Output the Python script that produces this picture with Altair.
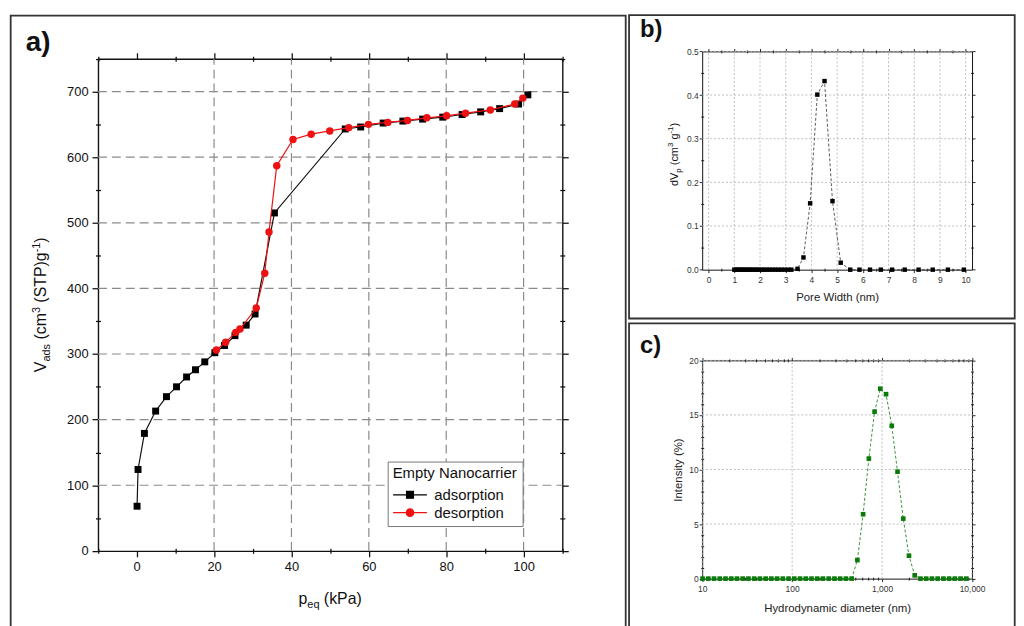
import altair as alt
import pandas as pd

FONT = "Liberation Sans"
INK = "#111111"
RED = "#ee1111"
GREEN = "#0a7a0a"
W, H = 1016, 618   # drawing area (page minus the 8px margin)

# ---------------- data ----------------
# a) N2 isotherm
ads_p = [0.1, 0.35, 2.0, 4.9, 7.7, 10.3, 12.9, 15.2, 17.6, 20.2, 22.7, 25.4, 28.3, 30.6,
         35.6, 53.9, 57.9, 63.7, 68.8, 73.9, 79.1, 84.1, 88.9, 93.8, 98.7, 101.1]
ads_v = [68, 124, 179, 213, 235, 250, 265, 276, 288, 302, 313, 328, 344, 361,
         515, 643, 646, 652, 655, 658, 661, 665, 669, 674, 681, 695]
des_p = [99.8, 97.7, 91.4, 85.0, 80.1, 75.0, 70.0, 64.9, 59.9, 54.8, 49.9, 45.1, 40.4,
         36.2, 34.2, 33.1, 30.9, 26.7, 25.6, 23.0, 20.6]
des_v = [690, 681, 672, 667, 663, 660, 656, 653, 650, 645, 640, 635, 627,
         587, 486, 423, 370, 338, 333, 318, 306]
series_names = ["adsorption", "desorption"]
legend_title = "Empty Nanocarrier"

# b) pore size distribution
pore_w = [1.00, 1.07, 1.14, 1.21, 1.28, 1.36, 1.44, 1.52, 1.60, 1.69, 1.78, 1.87, 1.96,
          2.06, 2.16, 2.26, 2.37, 2.48, 2.59, 2.71, 2.83, 2.96, 3.09, 3.22, 3.46, 3.69,
          3.95, 4.23, 4.51, 4.82, 5.14, 5.51, 5.87, 6.28, 6.70, 7.14, 7.63, 8.17, 8.72,
          9.31, 9.93]
pore_dv = [0.0, 0.0, 0.0, 0.0, 0.0, 0.0, 0.0, 0.0, 0.0, 0.0, 0.0, 0.0, 0.0,
           0.0, 0.0, 0.0, 0.0, 0.0, 0.0, 0.0, 0.0, 0.0, 0.0, 0.0, 0.002, 0.028,
           0.152, 0.401, 0.432, 0.157, 0.016, 0.0, 0.0, 0.0, 0.0, 0.0, 0.0, 0.0, 0.0,
           0.0, 0.0]

# c) DLS intensity distribution
dls_d = [10.10, 11.70, 13.54, 15.69, 18.17, 21.04, 24.36, 28.21, 32.67, 37.84, 43.82,
         50.75, 58.77, 68.06, 78.82, 91.28, 105.7, 122.4, 141.8, 164.2, 190.1, 220.2,
         255.0, 295.3, 342.0, 396.1, 458.7, 531.2, 615.1, 712.4, 825.0, 955.4, 1106,
         1281, 1484, 1718, 1990, 2305, 2669, 3091, 3580, 4145, 4801, 5560, 6439, 7456,
         8635]
dls_i = [0, 0, 0, 0, 0, 0, 0, 0, 0, 0, 0,
         0, 0, 0, 0, 0, 0, 0, 0, 0, 0, 0,
         0, 0, 0, 0, 0, 1.7, 5.9, 11.0, 15.3, 17.4, 16.9,
         14.0, 9.8, 5.5, 2.1, 0.3, 0, 0, 0, 0, 0, 0, 0, 0,
         0]

# axis domains and tick values
a_xdom, a_ydom = [-10, 110], [0, 750]
b_xdom, b_ydom = [-0.25, 10.25], [0, 0.5]
c_xdom, c_ydom = [10, 10000], [0, 20]
a_xmaj = [0, 20, 40, 60, 80, 100]
a_xmin = [-10, 10, 30, 50, 70, 90, 110]
a_ymaj = [0, 100, 200, 300, 400, 500, 600, 700]
a_ymin = [50, 150, 250, 350, 450, 550, 650, 750]
b_xmaj = [0, 1, 2, 3, 4, 5, 6, 7, 8, 9, 10]
b_xmin = [0.5, 1.5, 2.5, 3.5, 4.5, 5.5, 6.5, 7.5, 8.5, 9.5]
b_ymaj = [0.0, 0.1, 0.2, 0.3, 0.4, 0.5]
b_ymin = [0.05, 0.15, 0.25, 0.35, 0.45]
c_xmaj = [10, 100, 1000, 10000]
c_xmin = [20, 30, 40, 50, 60, 70, 80, 90, 200, 300, 400, 500, 600, 700, 800, 900,
          2000, 3000, 4000, 5000, 6000, 7000, 8000, 9000]
c_ymaj = [0, 5, 10, 15, 20]
c_ymin = [1, 2, 3, 4, 6, 7, 8, 9, 11, 12, 13, 14, 16, 17, 18, 19]

# ---------------- tables ----------------
ads_df = pd.DataFrame({"p": ads_p, "v": ads_v, "i": list(range(len(ads_p))),
                       "series": series_names[0]})
des_df = pd.DataFrame({"p": des_p, "v": des_v, "i": list(range(len(des_p))),
                       "series": series_names[1]})
iso_df = pd.concat([ads_df, des_df], ignore_index=True)
pore_df = pd.DataFrame({"w": pore_w, "dv": pore_dv})
dls_df = pd.DataFrame({"d": dls_d, "inten": dls_i})
one = pd.DataFrame({"k": [0]})

# ---------------- panel boxes (left, right, top, bottom) in px ----------------
BOX_A = (90.7, 558.7, 48.7, 544.7)
BOX_B = (699.7, 971.7, 41.3, 261.3)
BOX_C = (699.7, 971.7, 352.7, 572.7)


def scales(box, xdom, ydom, xlog=False):
    l, r, t, b = box
    xkw = dict(domain=xdom, range=[l, r], nice=False)
    if xlog:
        xkw["type"] = "log"
    else:
        xkw["zero"] = False
    return alt.Scale(**xkw), alt.Scale(domain=ydom, range=[b, t], nice=False, zero=False)


xa, ya = scales(BOX_A, a_xdom, a_ydom)
xb, yb = scales(BOX_B, b_xdom, b_ydom)
xc, yc = scales(BOX_C, c_xdom, c_ydom, xlog=True)

# ---------------- helpers ----------------
ARIAL = {" ": 278, "(": 333, ")": 333, "a": 556, "d": 556, "s": 500, "c": 500, "m": 833,
         "e": 556, "q": 556, "p": 556, "k": 500, "P": 667, "T": 611, "S": 667, "g": 556,
         "V": 667, "3": 556, "1": 556, "-": 333, "n": 556}


def text_width(s, size):
    return sum(ARIAL.get(ch, 556) for ch in s) * size / 1000.0


def rich_text(pieces, x, y, angle):
    layers = []
    off = 0.0
    for txt, size, shift in pieces:
        lead = len(txt) - len(txt.lstrip(" "))
        off += lead * 0.278 * size
        body = txt.strip(" ")
        kw = dict(text=body, font=FONT, fontSize=size, align="left",
                  baseline="alphabetic", dx=off, dy=shift, color=INK)
        if angle:
            kw["angle"] = angle
        layers.append(alt.Chart(one).mark_text(**kw).encode(x=alt.value(x), y=alt.value(y)))
        off += text_width(body, size)
    return layers


def axis_offsets(box):
    l, r, t, b = box
    return {"bottom": b - H, "top": -t, "left": -l, "right": r - W}


def guide_point(channel, scale, val, axis):
    d = pd.DataFrame({"t": [val]})
    if channel == "x":
        enc = dict(x=alt.X("t:Q", scale=scale, axis=axis), y=alt.value(0))
    else:
        enc = dict(y=alt.Y("t:Q", scale=scale, axis=axis), x=alt.value(0))
    return alt.Chart(d).mark_point(opacity=0).encode(**enc)


def panel_guides(box, xs, ys, xv, yv, xmaj, xmin, ymaj, ymin, msz, nsz, w, xmain, ymain):
    off = axis_offsets(box)
    layers = []

    def plain(orient, vals, size, offset, domain):
        return alt.Axis(orient=orient, values=vals, labels=False, grid=False, title=None,
                        domain=domain, domainColor=INK, domainWidth=w, ticks=True,
                        tickSize=size, tickColor=INK, tickWidth=0.9 * w, offset=offset)

    common = dict(labelFlush=False, labelOverlap=False, grid=False, domain=True,
                  domainColor=INK, domainWidth=w, ticks=True, tickSize=msz, tickColor=INK,
                  tickWidth=0.9 * w)
    layers.append(guide_point("x", xs, xv, alt.Axis(orient="bottom", offset=off["bottom"],
                                                    values=xmaj, **common, **xmain)))
    layers.append(guide_point("y", ys, yv, alt.Axis(orient="left", offset=off["left"],
                                                    values=ymaj, **common, **ymain)))
    layers.append(guide_point("x", xs, xv, plain("top", xmaj, msz, off["top"], True)))
    layers.append(guide_point("y", ys, yv, plain("right", ymaj, msz, off["right"], True)))
    for o in ["bottom", "top"]:
        layers.append(guide_point("x", xs, xv, plain(o, xmin, nsz, off[o] - nsz / 2.0, False)))
    for o in ["left", "right"]:
        layers.append(guide_point("y", ys, yv, plain(o, ymin, nsz, off[o] - nsz / 2.0, False)))
    return layers


def grid_rules(xs, ys, xdom, ydom, xvals, yvals, color, dash, width):
    gx = pd.DataFrame({"g": xvals, "lo": ydom[0], "hi": ydom[1]})
    gy = pd.DataFrame({"g": yvals, "lo": xdom[0], "hi": xdom[1]})
    mk = dict(color=color, strokeDash=dash, strokeWidth=width)
    return [
        alt.Chart(gx).mark_rule(**mk).encode(
            x=alt.X("g:Q", scale=xs, axis=None), y=alt.Y("lo:Q", scale=ys, axis=None), y2="hi:Q"),
        alt.Chart(gy).mark_rule(**mk).encode(
            y=alt.Y("g:Q", scale=ys, axis=None), x=alt.X("lo:Q", scale=xs, axis=None), x2="hi:Q"),
    ]


def frame(x1, x2, y1, y2):
    return alt.Chart(one).mark_rect(fillOpacity=0, stroke="#333333", strokeWidth=1.8).encode(
        x=alt.value(x1), x2=alt.value(x2), y=alt.value(y1), y2=alt.value(y2))


def tag(txt, x, y, size):
    return alt.Chart(one).mark_text(text=txt, font=FONT, fontSize=size, fontWeight="bold",
                                    align="left", baseline="alphabetic", color=INK).encode(
        x=alt.value(x), y=alt.value(y))


# ---------------- panel a ----------------
lab_a = dict(format="d", labelFontSize=13, labelColor=INK, labelPadding=4, title=None)
guides_a = panel_guides(BOX_A, xa, ya, 50, 300, a_xmaj, a_xmin, a_ymaj, a_ymin, 6, 5, 1.4,
                        lab_a, lab_a)
grid_a = grid_rules(xa, ya, a_xdom, a_ydom, a_xmaj[1:], a_ymaj[1:], "#8a8a8a", [9, 5], 1.2)

ads_line = alt.Chart(ads_df).mark_line(color=INK, strokeWidth=1.2).encode(
    x=alt.X("p:Q", scale=xa, axis=None), y=alt.Y("v:Q", scale=ya, axis=None), order="i:Q")
ads_pts = alt.Chart(ads_df).mark_point(shape="square", filled=True, size=49, color="black",
                                       opacity=1).encode(
    x=alt.X("p:Q", scale=xa, axis=None), y=alt.Y("v:Q", scale=ya, axis=None))
des_line = alt.Chart(des_df).mark_line(color=RED, strokeWidth=1.2).encode(
    x=alt.X("p:Q", scale=xa, axis=None), y=alt.Y("v:Q", scale=ya, axis=None), order="i:Q")
des_pts = alt.Chart(des_df).mark_point(shape="circle", filled=True, size=56, color=RED,
                                       opacity=1).encode(
    x=alt.X("p:Q", scale=xa, axis=None), y=alt.Y("v:Q", scale=ya, axis=None))

SYM_SQ = "M-2,0H2M-0.41,-0.41H0.41V0.41H-0.41Z"
SYM_CI = "M-2,0H2M-0.44,0A0.44,0.44,0,1,0,0.44,0A0.44,0.44,0,1,0,-0.44,0Z"
leg = alt.Legend(title=legend_title, orient="none", legendX=382.7, legendY=454.7,
                 direction="vertical", titleFontSize=15, titleFontWeight="normal",
                 titleColor=INK, labelFontSize=15, labelColor=INK, symbolSize=289,
                 symbolStrokeWidth=1.2, symbolOffset=8, labelOffset=15, padding=5,
                 rowPadding=0, titlePadding=4, strokeColor="#777777", fillColor="white",
                 symbolOpacity=1)
col_scale = alt.Scale(domain=series_names, range=["black", RED])
leg_layer = alt.Chart(iso_df).mark_point(opacity=0, size=289).encode(
    x=alt.X("p:Q", scale=xa, axis=None), y=alt.Y("v:Q", scale=ya, axis=None),
    fill=alt.Fill("series:N", scale=col_scale, legend=leg),
    stroke=alt.Stroke("series:N", scale=col_scale, legend=leg),
    shape=alt.Shape("series:N", scale=alt.Scale(domain=series_names, range=[SYM_SQ, SYM_CI]),
                    legend=leg))

ytitle_a = rich_text([("V", 16, 0), ("ads", 11, 4), (" (cm", 16, 0), ("3", 11, -6),
                      (" (STP)g", 16, 0), ("-1", 11, -6), (")", 16, 0)],
                     38.5, 364.6, 270)
xtitle_a = rich_text([("p", 16, 0), ("eq", 11, 4), (" (kPa)", 16, 0)], 292.8, 598.0, 0)

# ---------------- panel b ----------------
lab_bx = dict(format="d", labelFontSize=8.5, labelColor="#333333", labelPadding=3,
              title="Pore Width (nm)", titleFontSize=11.5, titleFontWeight="normal",
              titleColor="#222222", titlePadding=8)
lab_by = dict(format=".1f", labelFontSize=8.5, labelColor="#333333", labelPadding=1, title=None)
guides_b = panel_guides(BOX_B, xb, yb, 5, 0.25, b_xmaj, b_xmin, b_ymaj, b_ymin, 3, 3, 1.0,
                        lab_bx, lab_by)
grid_b = grid_rules(xb, yb, b_xdom, b_ydom, b_xmaj, b_ymaj[1:], "#b0b0b0", [2, 2], 0.8)
b_line = alt.Chart(pore_df).mark_line(color="#333333", strokeWidth=0.8, strokeDash=[3, 2]).encode(
    x=alt.X("w:Q", scale=xb, axis=None), y=alt.Y("dv:Q", scale=yb, axis=None))
b_pts = alt.Chart(pore_df).mark_point(shape="square", filled=True, size=20, color="black",
                                      opacity=1).encode(
    x=alt.X("w:Q", scale=xb, axis=None), y=alt.Y("dv:Q", scale=yb, axis=None))
ytitle_b = rich_text([("dV", 11, 0), ("p", 8, 3), (" (cm", 11, 0), ("3", 8, -4.5),
                      (" g", 11, 0), ("-1", 8, -4.5), (")", 11, 0)], 675.0, 177.0, 270)

# ---------------- panel c ----------------
lab_cx = dict(format=",", labelFontSize=8.5, labelColor="#333333", labelPadding=3,
              title="Hydrodynamic diameter (nm)", titleFontSize=11.5, titleFontWeight="normal",
              titleColor="#222222", titlePadding=10)
lab_cy = dict(format="d", labelFontSize=8.5, labelColor="#333333", labelPadding=1,
              title="Intensity (%)", titleFontSize=11.5, titleFontWeight="normal",
              titleColor="#222222", titlePadding=5)
guides_c = panel_guides(BOX_C, xc, yc, 100, 10, c_xmaj, c_xmin, c_ymaj, c_ymin, 3, 3, 1.0,
                        lab_cx, lab_cy)
grid_c = grid_rules(xc, yc, c_xdom, c_ydom, c_xmaj, c_ymaj[1:], "#b0b0b0", [2, 2], 0.8)
c_line = alt.Chart(dls_df).mark_line(color=GREEN, strokeWidth=0.8, strokeDash=[3, 2]).encode(
    x=alt.X("d:Q", scale=xc, axis=None), y=alt.Y("inten:Q", scale=yc, axis=None))
c_pts = alt.Chart(dls_df).mark_point(shape="square", filled=True, size=22, color=GREEN,
                                     opacity=1).encode(
    x=alt.X("d:Q", scale=xc, axis=None), y=alt.Y("inten:Q", scale=yc, axis=None))

# ---------------- assemble ----------------
layers = (
    [frame(2.7, 622.6, 5.3, 640), frame(626, 1014.7, 4.7, 310.5), frame(626, 1014.7, 315.5, 640)]
    + grid_a + grid_b + grid_c
    + guides_a + guides_b + guides_c
    + [ads_line, ads_pts, des_line, des_pts, leg_layer]
    + [b_line, b_pts, c_line, c_pts]
    + [tag("a)", 18, 41, 28), tag("b)", 637, 27, 24), tag("c)", 637, 345, 24)]
    + ytitle_a + xtitle_a + ytitle_b
)

chart = alt.layer(*layers).resolve_scale(x="independent", y="independent").properties(
    width=W, height=H, autosize=alt.AutoSizeParams(type="none"), padding=0,
    background="white"
).configure_view(stroke="transparent").configure_axis(
    labelFont=FONT, titleFont=FONT).configure_legend(labelFont=FONT, titleFont=FONT)

chart.save("out.html", embed_options={"renderer": "svg", "actions": False})
